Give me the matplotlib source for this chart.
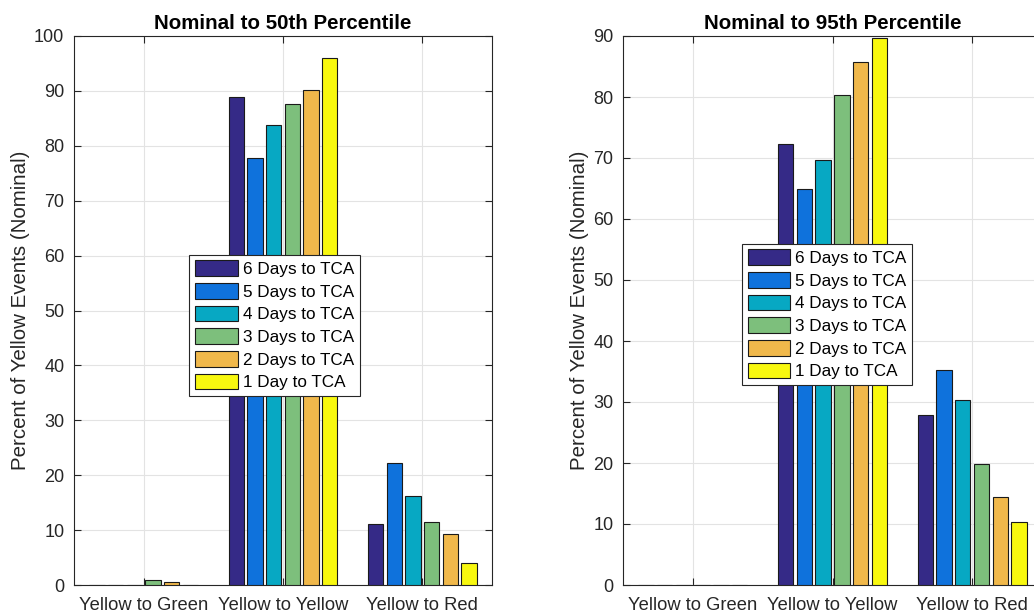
import matplotlib
matplotlib.use("Agg")
import matplotlib.pyplot as plt
import numpy as np

plt.rcParams["font.family"] = ["Liberation Sans", "DejaVu Sans"]

categories = ["Yellow to Green", "Yellow to Yellow", "Yellow to Red"]
series_labels = ["6 Days to TCA", "5 Days to TCA", "4 Days to TCA",
                 "3 Days to TCA", "2 Days to TCA", "1 Day to TCA"]
colors = ["#352a87", "#0f72dc", "#07a8c3", "#7dbf7c", "#f0b84b", "#f8f80f"]

# rows = series (6 days .. 1 day), cols = categories
pct_50th = [
    [0.0, 88.9, 11.1],
    [0.0, 77.8, 22.2],
    [0.0, 83.8, 16.3],
    [0.85, 87.6, 11.5],
    [0.5, 90.2, 9.25],
    [0.0, 96.0, 3.95],
]
pct_95th = [
    [0.0, 72.3, 27.8],
    [0.0, 64.9, 35.2],
    [0.0, 69.7, 30.4],
    [0.0, 80.3, 19.8],
    [0.0, 85.7, 14.4],
    [0.0, 89.7, 10.3],
]

TEXT = "#262626"


def draw_panel(ax, data, title, ymax, legend_xy):
    x = np.arange(1, len(categories) + 1)
    slot = 0.134
    width = 0.11
    n = len(data)
    for i, vals in enumerate(data):
        off = (i - (n - 1) / 2) * slot
        ax.bar(x + off, vals, width=width, color=colors[i],
               edgecolor="#1a1a1a", linewidth=0.8, label=series_labels[i],
               zorder=3)
    ax.set_xlim(0.5, 3.5)
    ax.set_ylim(0, ymax)
    ax.set_xticks(x)
    ax.set_xticklabels(categories)
    ax.set_yticks(np.arange(0, ymax + 1, 10))
    ax.grid(True, color="#e3e3e3", linewidth=0.8, zorder=0)
    ax.set_axisbelow(True)
    ax.tick_params(direction="in", length=5, width=0.8, colors=TEXT,
                   top=True, right=True)
    ax.tick_params(axis="x", labelsize=13.2, pad=9)
    ax.tick_params(axis="y", labelsize=13, pad=7)
    for s in ax.spines.values():
        s.set_color(TEXT)
        s.set_linewidth(0.8)
    ax.set_title(title, fontsize=14.8, fontweight="bold", pad=5)
    ax.set_ylabel("Percent of Yellow Events (Nominal)", fontsize=14.8,
                  color=TEXT, labelpad=2.7)
    leg = ax.legend(loc="center", bbox_to_anchor=legend_xy, fontsize=12.3,
                    frameon=True, fancybox=False, framealpha=1,
                    edgecolor=TEXT, handlelength=2.5, handleheight=1.03,
                    handletextpad=0.3, labelspacing=0.35, borderpad=0.33,
                    borderaxespad=0)
    leg.get_frame().set_linewidth(0.8)


fig = plt.figure(figsize=(10.34, 6.16), dpi=100)
ax1 = fig.add_axes([74 / 1034, 31 / 616, 418 / 1034, 549 / 616])
ax2 = fig.add_axes([623 / 1034, 31 / 616, 419 / 1034, 549 / 616])

draw_panel(ax1, pct_50th, "Nominal to 50th Percentile", 100, (0.48, 0.473))
draw_panel(ax2, pct_95th, "Nominal to 95th Percentile", 90, (0.487, 0.493))

fig.savefig("out.png", dpi=100)
